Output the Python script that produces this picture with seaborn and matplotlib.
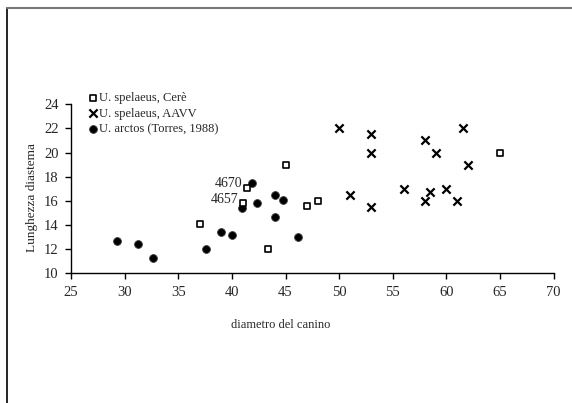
import numpy as np
import seaborn as sns
import matplotlib.pyplot as plt
from matplotlib.lines import Line2D

# U. spelaeus, Cerè
cere_x = [45, 41.4, 41.0, 37.0, 47, 48, 43.4, 65]
cere_y = [19, 17.1, 15.8, 14.1, 15.6, 16.0, 12.0, 20]

# U. spelaeus, AAVV
aavv_x = [50, 53, 53, 51, 53, 56, 58, 59, 61.5, 62, 58, 58.5, 60, 61]
aavv_y = [22, 21.5, 20, 16.5, 15.5, 17, 21, 20, 22, 19, 16, 16.7, 17, 16]

# U. arctos (Torres, 1988)
arctos_x = [41.9, 44.0, 44.8, 42.3, 40.9, 44.0, 39, 40, 37.6, 46.2, 29.3, 31.2, 32.6]
arctos_y = [17.5, 16.5, 16.1, 15.8, 15.4, 14.7, 13.4, 13.2, 12.0, 13.0, 12.7, 12.4, 11.3]

labels = ['4670', '4657']
label_x = [41.4, 41.0]
label_y = [17.1, 15.8]

sns.set_style('white')
plt.rcParams['font.family'] = ['Liberation Serif', 'DejaVu Serif']
plt.rcParams['font.size'] = 10

W, H = 572, 403
fig = plt.figure(figsize=(W / 100, H / 100), dpi=100)
ax = fig.add_axes([71 / W, 1 - 273.3 / H, (553.7 - 71) / W, (273.3 - 104.2) / H])

sns.scatterplot(x=cere_x, y=cere_y, ax=ax, marker='s', s=16, facecolor='white',
                edgecolor='black', linewidth=1.2, label='U. spelaeus, Cerè', zorder=3)
sns.scatterplot(x=aavv_x, y=aavv_y, ax=ax, marker='x', s=35, color='black',
                linewidth=1.6, label='U. spelaeus, AAVV', zorder=3)
sns.scatterplot(x=arctos_x, y=arctos_y, ax=ax, marker='o', s=32, color='black',
                edgecolor='#444444', linewidth=0.6, label='U. arctos (Torres, 1988)', zorder=2)

for t, xv, yv in zip(labels, label_x, label_y):
    ax.annotate(t, (xv, yv), xytext=(-3, 3), textcoords='offset points',
                ha='right', va='center', fontsize=10)

ax.set_xlim(25, 70)
ax.set_ylim(10, 24)
ax.set_xticks(np.arange(25, 71, 5))
ax.set_yticks(np.arange(10, 25, 2))
sns.despine(ax=ax)
for sp in ['left', 'bottom']:
    ax.spines[sp].set_color('black')
    ax.spines[sp].set_linewidth(1.0)
ax.tick_params(axis='both', direction='out', length=4, width=1, color='black',
               left=True, bottom=True, labelsize=10.5, pad=5)

ax.set_xlabel('diametro del canino', fontsize=9)
ax.set_ylabel('Lunghezza diastema', fontsize=9.5)
ax.xaxis.set_label_coords((281 - 71) / (553.7 - 71), -0.27)
ax.yaxis.set_label_coords(-0.068, 0.45)

leg = ax.legend(loc='upper left', bbox_to_anchor=(88 / W, 1 - 92 / H),
                bbox_transform=fig.transFigure, frameon=False, fontsize=9,
                handletextpad=0.1, labelspacing=0.3, borderaxespad=0,
                handlelength=0.8, borderpad=0)

# outer frame (left and top only)
fig.add_artist(Line2D([7 / W, 7 / W], [0, 1 - 8 / H], color='black', linewidth=1.2,
                      transform=fig.transFigure))
fig.add_artist(Line2D([7 / W, 1], [1 - 8 / H, 1 - 8 / H], color='#777777', linewidth=1.5,
                      transform=fig.transFigure))

fig.savefig('out.png', dpi=100)
